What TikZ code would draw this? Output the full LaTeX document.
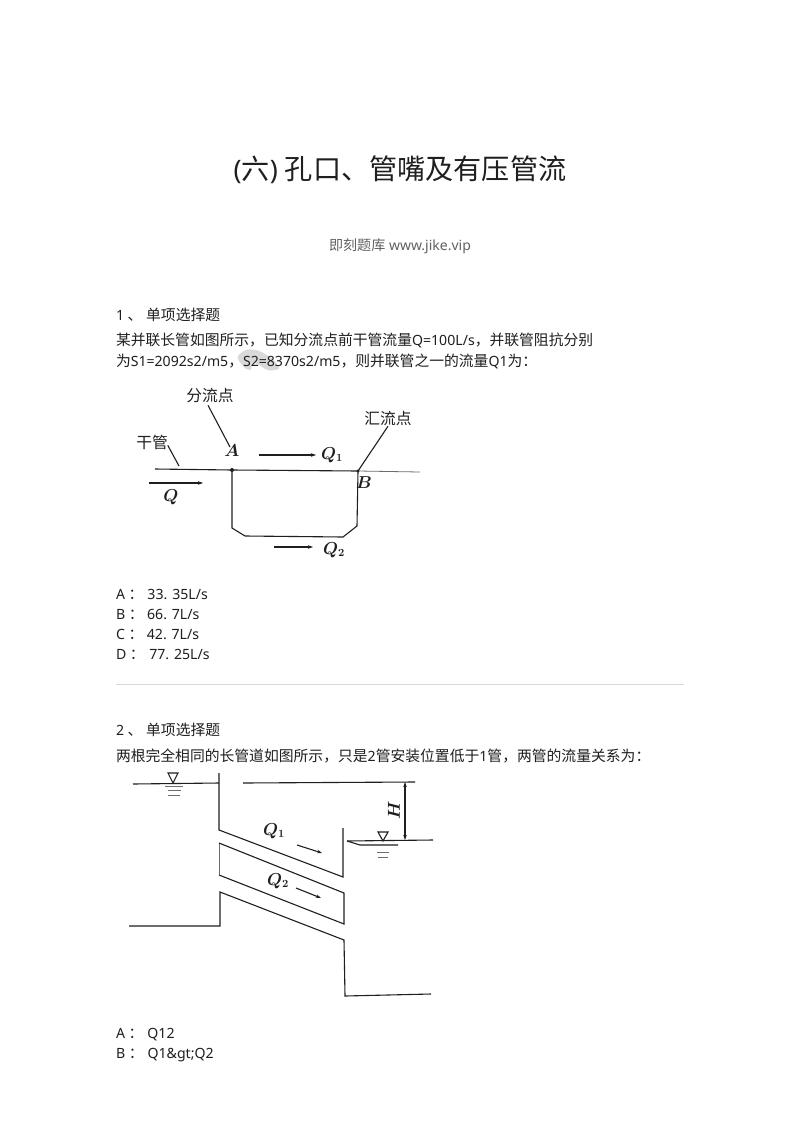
\documentclass[tikz,border=0pt]{standalone}
\usepackage{amsmath,amssymb,fontspec}
\setmainfont{Noto Sans}
\newfontfamily\cjk[Scale=1.05]{Noto Sans CJK SC}
\newcommand{\cj}[1]{{\cjk #1}}
\usetikzlibrary{arrows.meta,positioning}
\definecolor{ink}{gray}{0.12}
\definecolor{pipe}{gray}{0.12}
\begin{document}
\begin{tikzpicture}[x=1pt,y=-1pt,
        every node/.style={inner sep=0pt,outer sep=0pt,text=ink},
        txt/.style={anchor=west,font=\fontsize{14.1}{14}\selectfont,minimum height=20pt,text height=11pt,text depth=4pt},
        opt/.style={txt,anchor=north west},
        fig/.style={font=\fontsize{16}{16}\selectfont\boldmath},
        lab/.style={font=\fontsize{15}{15}\cjk},
        line/.style={draw=pipe,line width=1.1pt},
        thin line/.style={draw=pipe!65,line width=0.8pt},
        flow/.style={line,-{Stealth[length=5pt,width=3.5pt]}}]

        \useasboundingbox (0,0) rectangle (800,1132);
        \fill[white] (0,0) rectangle (800,1132);

        \node (title) at (400,170) {\fontsize{26.8}{27}\selectfont (\cj{六}) \cj{孔口、管嘴及有压管流}};
        \node (sub) at (400,246) [text=ink!70] {\fontsize{14}{14}\selectfont {\fontsize{13.4}{14}\cjk 即刻题库} www.jike.vip};

        \fill[gray!30,rounded corners=4pt] (236,357) -- (246,349) -- (258,350) -- (272,358) -- (281,369) -- (268,371) -- (258,364) -- (250,362) -- (253,370) -- (246,370) -- cycle;

        \node (qa) [txt] at (116,317) {1 \cj{、} \cj{单项选择题}};
        \node (qa1) [txt] at (116,342) {\cj{某并联长管如图所示，已知分流点前干管流量}Q=100L/s\cj{，并联管阻抗分别}};
        \node (qa2) [txt] at (116,363) {\cj{为}S1=2092s2/m5\cj{，}S2=8370s2/m5\cj{，则并联管之一的流量}Q1\cj{为：}};

        \coordinate (m1) at (155,469);
        \coordinate (A) at (232,470);
        \coordinate (B) at (358,471);
        \coordinate (m2) at (420,472);
        \coordinate (c1) at (232,528);
        \coordinate (c2) at (245,536);
        \coordinate (c3) at (343,537);
        \coordinate (c4) at (357,526);

        \draw[line] (m1) -- (A) -- (B);
        \draw[thin line] (B) -- (m2);
        \draw[line] (A) -- (c1) -- (c2) -- (c3) -- (c4) -- (B);
        \fill[pipe] (A) circle (2pt) (B) circle (1.7pt);

        \node (fen) [lab] at (210,396) {分流点};
        \node (hui) [lab] at (388,419) {汇流点};
        \node (gan) [lab] at (152,442) {干管};
        \node (la) [fig] at (232,451) {$A$};
        \node (lb) [fig] at (364,483) {$B$};
        \node (lq) [fig] at (171,497) {$Q$};
        \node (lq1) [fig] at (332,455) {$Q_1$};
        \node (lq2) [fig] at (334,550) {$Q_2$};

        \coordinate (fa) at (230,447);
        \coordinate (ga) at (179,466);
        \draw[line] (fen.south) ++(-2,2) -- (fa);
        \draw[line] (hui.south) -- (B);
        \draw[line] (gan.south east) ++(0,-4) -- (ga);

        \coordinate (qs) at (149,483);
        \coordinate (qe) at (203,483);
        \coordinate (qas) at (259,455);
        \coordinate (qae) at (316,455);
        \coordinate (qbs) at (274,547);
        \coordinate (qbe) at (313,547);
        \draw[flow] (qs) -- (qe);
        \draw[flow] (qas) -- (qae);
        \draw[flow] (qbs) -- (qbe);

        \node (oa) [opt] at (116,586) {A \cj{：}\hspace{4pt}33. 35L/s};
        \node (ob) [below right=0pt and 0pt of oa.south west,opt] {B \cj{：}\hspace{3.5pt}66. 7L/s};
        \node (oc) [below right=0pt and 0pt of ob.south west,opt] {C \cj{：}\hspace{3.5pt}42. 7L/s};
        \node (od) [below right=0pt and 0pt of oc.south west,opt] {D \cj{：}\hspace{4.5pt}77. 25L/s};

        \coordinate (r1) at (116,684);
        \coordinate (r2) at (684,684);
        \draw[gray!30,line width=0.8pt] (r1) -- (r2);

        \node (qb) [txt] at (116,732) {2 \cj{、} \cj{单项选择题}};
        \node (qb1) [txt] at (116,758) {\cj{两根完全相同的长管道如图所示，只是}2\cj{管安装位置低于}1\cj{管，两管的流量关系为：}};

        \coordinate (w1) at (133,784);
        \coordinate (w2) at (219,783);
        \coordinate (w3) at (219,773);
        \coordinate (p1) at (219,830);
        \coordinate (p2) at (343,877);
        \coordinate (p3) at (343,828);
        \coordinate (p4) at (219,843);
        \coordinate (p5) at (344,893);
        \coordinate (p6) at (219,875);
        \coordinate (p7) at (344,924);
        \coordinate (p8) at (220,892);
        \coordinate (p9) at (344,940);
        \coordinate (p10) at (220,926);
        \coordinate (p11) at (129,926);
        \coordinate (p12) at (345,996);
        \coordinate (p13) at (431,994);
        \coordinate (t1) at (243,783);
        \coordinate (t2) at (415,782);
        \coordinate (h1) at (405,782);
        \coordinate (h2) at (405,840);
        \coordinate (v1) at (347,841);
        \coordinate (v2) at (360,845);
        \coordinate (v3) at (398,845);
        \coordinate (v4) at (433,840);

        \draw[line] (w1) -- (w2);
        \draw[line] (w3) -- (p1) -- (p2) -- (p3);
        \draw[thin line] (p4) -- (p6);
        \draw[line] (p4) -- (p5) -- (p7) -- (p6);
        \draw[line] (p11) -- (p10) -- (p8) -- (p9) -- (p12) -- (p13);
        \draw[line] (t1) -- (t2);
        \draw[line] (v1) -- (v2) -- (v3);
        \draw[line] (v1) -- (v4);
        \draw[line,{Stealth[length=5pt,width=3.5pt]}-{Stealth[length=5pt,width=3.5pt]}] (h1) -- (h2);

        \draw[line] (168,773) -- (178,773) -- (173,783) -- cycle;
        \draw[line] (378,832) -- (388,832) -- (383,841) -- cycle;
        \draw[thin line] (165,786) -- (183,786) (168,790) -- (181,790) (168,795) -- (180,795);
        \draw[thin line] (377,852) -- (389,852) (378,857) -- (388,857);

        \node (lh) [fig,rotate=90] at (394,810) {$H$};
        \node (lqa) [fig] at (274,831) {$Q_1$};
        \node (lqb) [fig] at (278,881) {$Q_2$};

        \coordinate (fa1) at (297,845);
        \coordinate (fa2) at (322,853);
        \coordinate (fb1) at (296,888);
        \coordinate (fb2) at (321,898);
        \draw[flow] (fa1) -- (fa2);
        \draw[flow] (fb1) -- (fb2);

        \node (pa) [opt] at (116,1025) {A \cj{：}\hspace{4pt}Q12};
        \node (pb) [below right=0pt and 0pt of pa.south west,opt] {B \cj{：}\hspace{4pt}Q1\&gt;Q2};
\end{tikzpicture}
\end{document}
